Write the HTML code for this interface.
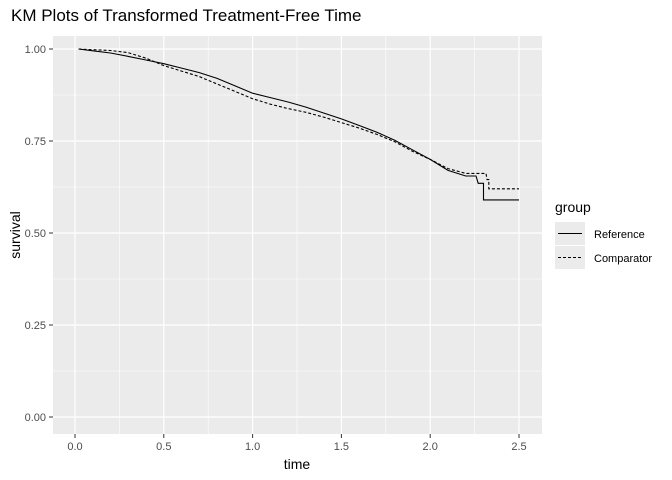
<!DOCTYPE html>
<html><head><meta charset="utf-8"><style>
body{margin:0;background:#fff;}
svg{display:block;font-family:"Liberation Sans",sans-serif;}
</style></head><body>
<svg width="672" height="480" xmlns="http://www.w3.org/2000/svg">
<rect width="672" height="480" fill="#fff"/>
<text x="11" y="21" font-size="17" fill="#000">KM Plots of Transformed Treatment-Free Time</text>
<rect x="53" y="36" width="489" height="398" fill="#ebebeb"/>
<g stroke="#fff" stroke-width="0.6">
<line x1="53" x2="542" y1="371" y2="371"/><line x1="53" x2="542" y1="279" y2="279"/>
<line x1="53" x2="542" y1="187" y2="187"/><line x1="53" x2="542" y1="95" y2="95"/>
<line y1="36" y2="434" x1="119.4" x2="119.4"/><line y1="36" y2="434" x1="208.2" x2="208.2"/>
<line y1="36" y2="434" x1="297" x2="297"/><line y1="36" y2="434" x1="385.8" x2="385.8"/>
<line y1="36" y2="434" x1="474.6" x2="474.6"/>
</g>
<g stroke="#fff" stroke-width="1.2">
<line x1="53" x2="542" y1="417" y2="417"/><line x1="53" x2="542" y1="325" y2="325"/>
<line x1="53" x2="542" y1="233" y2="233"/><line x1="53" x2="542" y1="141" y2="141"/>
<line x1="53" x2="542" y1="49" y2="49"/>
<line y1="36" y2="434" x1="75" x2="75"/><line y1="36" y2="434" x1="163.8" x2="163.8"/>
<line y1="36" y2="434" x1="252.6" x2="252.6"/><line y1="36" y2="434" x1="341.4" x2="341.4"/>
<line y1="36" y2="434" x1="430.2" x2="430.2"/><line y1="36" y2="434" x1="519" x2="519"/>
</g>
<g stroke="#333" stroke-width="1">
<line x1="49" x2="53" y1="417" y2="417"/><line x1="49" x2="53" y1="325" y2="325"/>
<line x1="49" x2="53" y1="233" y2="233"/><line x1="49" x2="53" y1="141" y2="141"/>
<line x1="49" x2="53" y1="49" y2="49"/>
<line y1="434" y2="438" x1="75" x2="75"/><line y1="434" y2="438" x1="163.8" x2="163.8"/>
<line y1="434" y2="438" x1="252.6" x2="252.6"/><line y1="434" y2="438" x1="341.4" x2="341.4"/>
<line y1="434" y2="438" x1="430.2" x2="430.2"/><line y1="434" y2="438" x1="519" x2="519"/>
</g>
<g font-size="11" fill="#4d4d4d" text-anchor="end">
<text x="46" y="421">0.00</text><text x="46" y="329">0.25</text><text x="46" y="237">0.50</text>
<text x="46" y="145">0.75</text><text x="46" y="53">1.00</text>
</g>
<g font-size="11" fill="#4d4d4d" text-anchor="middle">
<text x="75" y="450">0.0</text><text x="163.8" y="450">0.5</text><text x="252.6" y="450">1.0</text>
<text x="341.4" y="450">1.5</text><text x="430.2" y="450">2.0</text><text x="519" y="450">2.5</text>
</g>
<text x="297" y="469" font-size="14" text-anchor="middle">time</text>
<text transform="translate(20,235) rotate(-90)" font-size="14" text-anchor="middle">survival</text>
<polyline fill="none" stroke="#000" stroke-width="1.1" points="78.6,49 92.8,50.8 110.5,53 128.3,56.4 146,60 163.8,63.7 181.6,68.1 199.3,72.6 217.1,78.4 234.8,85.8 252.6,93.2 270.4,97.6 288.1,102 305.9,107.1 323.6,113 341.4,118.9 359.2,125.5 376.9,132.2 394.7,140.3 412.4,149.8 430.2,159.4 448,170.4 465.7,176 476,176 478.2,183.3 483.5,183.3 483.5,199.9 519,199.9"/>
<polyline fill="none" stroke="#000" stroke-width="1.1" stroke-dasharray="3,2" points="78.6,49 92.8,49.7 110.5,50.5 128.3,52.7 146,58.2 163.8,65.6 181.6,71.1 199.3,76.6 217.1,84 234.8,91.3 252.6,98.7 270.4,104.2 288.1,108.6 305.9,112.3 323.6,117.1 341.4,122.6 359.2,128.1 376.9,134.4 394.7,141.7 412.4,151.3 430.2,159.4 448,168.6 465.7,173.4 486,173.4 487,179.6 488.8,179.6 488.8,188.8 519,188.8"/>
<text x="555" y="212" font-size="14">group</text>
<rect x="555" y="222" width="30" height="23" fill="#ebebeb"/>
<rect x="555" y="246" width="30" height="23" fill="#ebebeb"/>
<line x1="558" x2="582" y1="233.5" y2="233.5" stroke="#000" stroke-width="1.1"/>
<line x1="558" x2="582" y1="257.5" y2="257.5" stroke="#000" stroke-width="1.1" stroke-dasharray="3,2"/>
<text x="594" y="238" font-size="11">Reference</text>
<text x="594" y="262" font-size="11">Comparator</text>
</svg>
</body></html>
